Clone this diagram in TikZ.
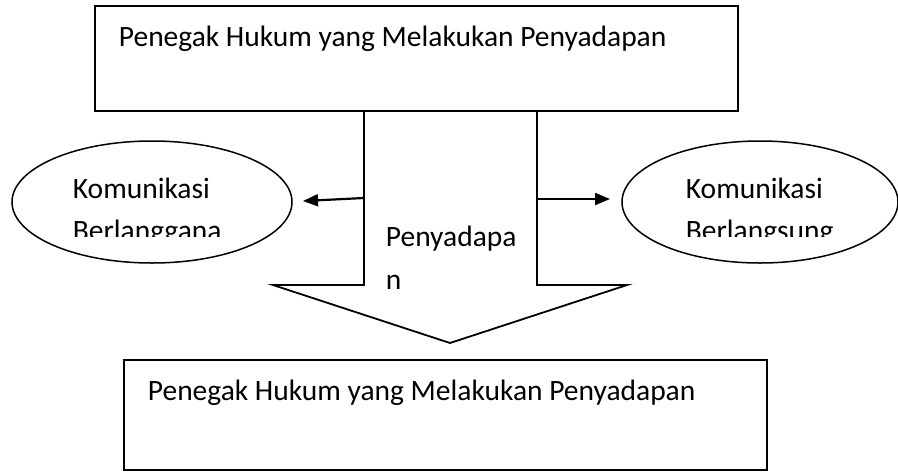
\documentclass[tikz,border=0pt]{standalone}
\usepackage{fontspec}
\setmainfont{Carlito}
\usetikzlibrary{shapes.geometric,arrows.meta}
\begin{document}
\begin{tikzpicture}[x=1pt,y=-1pt,
  line width=1.8pt,
  txt/.style={inner sep=0pt,anchor=base west,font=\fontsize{29.5pt}{40pt}\selectfont},
  boxst/.style={draw,line width=1.8pt},
  ell/.style={draw,ellipse,line width=1.5pt,inner sep=0pt},
  arr/.style={-{Triangle[length=15pt,width=12pt]},line width=2.2pt}]
\useasboundingbox (0,0) rectangle (898,472);
% top box
\draw[boxst] (95,6) rectangle (738,111);
\node[txt] (t1) at (118,46) {Penegak Hukum yang Melakukan Penyadapan};
% bottom box
\draw[boxst] (124,360) rectangle (767,470);
\node[txt] (t2) at (147,400) {Penegak Hukum yang Melakukan Penyadapan};
% big arrow
\coordinate (sl) at (364,111);
\coordinate (sr) at (537,111);
\draw[line width=1.8pt,line join=miter] (sl) -- (364,285) -- (273,285) -- (450,343) -- (627,285) -- (537,285) -- (sr);
\node[txt] (p1) at (385,246) {Penyadapa};
\node[txt] (p2) at (385,289) {n};
% ellipses
\node[ell,minimum width=280pt,minimum height=122pt] (e1) at (152,202) {};
\node[ell,minimum width=276pt,minimum height=122pt] (e2) at (760,202) {};
\node[txt] (k1) at (72,198) {Komunikasi};
\node[txt] (k2) at (685,198) {Komunikasi};
\begin{scope}
\clip (0,215) rectangle (898,236);
\node[txt] (b1) at (72,240) {Berlanggana};
\node[txt] (b2) at (685,240) {Berlangsung};
\end{scope}
% side arrows
\coordinate (al) at (364,198);
\coordinate (ar) at (537,199);
\coordinate (tl) at (303,201);
\coordinate (tr) at (610,199);
\draw[arr] (al) -- (tl);
\draw[arr] (ar) -- (tr);
\end{tikzpicture}
\end{document}
